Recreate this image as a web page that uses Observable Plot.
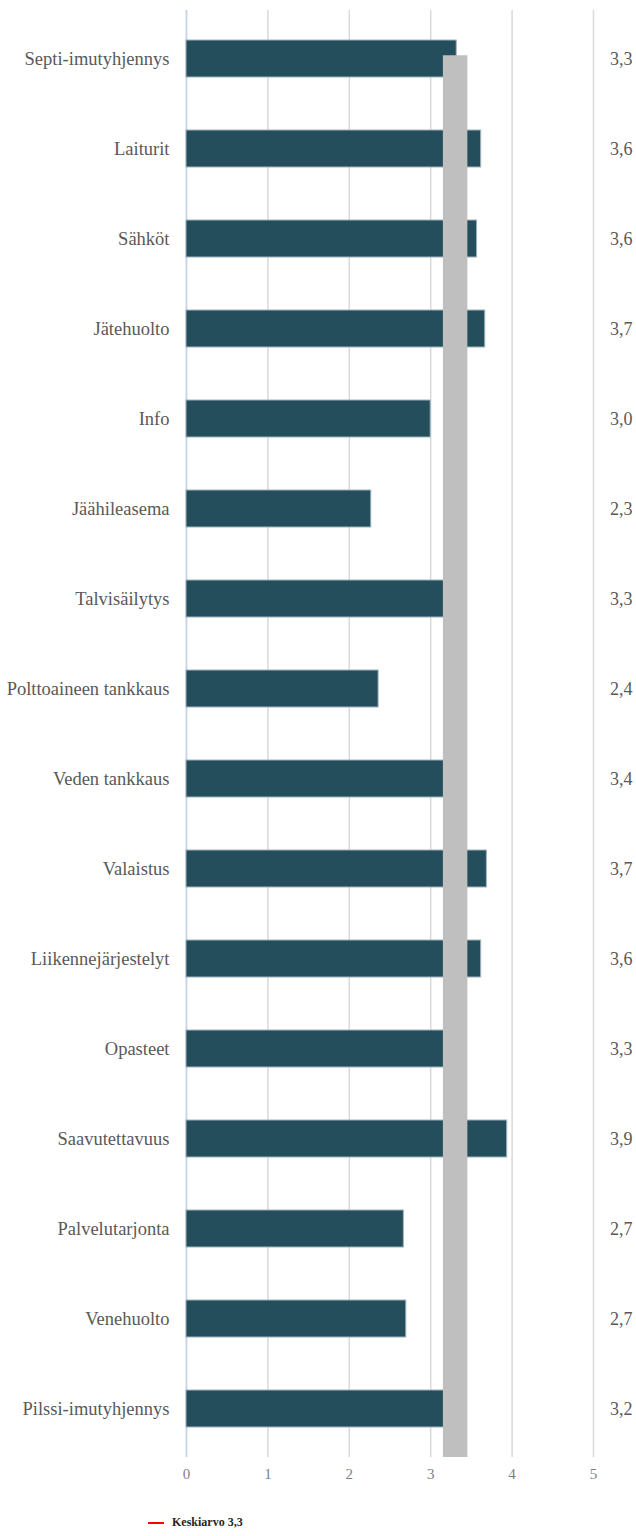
<!DOCTYPE html>
<html>
<head>
<meta charset="utf-8">
<script src="https://cdn.jsdelivr.net/npm/d3@7"></script>
<script src="https://cdn.jsdelivr.net/npm/@observablehq/plot@0.6"></script>
<style>
  html, body { margin: 0; padding: 0; background: #ffffff; }
  #chart svg { display: block; font-family: "Liberation Serif", "Times New Roman", serif !important; }
  #chart svg text { font-family: "Liberation Serif", "Times New Roman", serif !important; }
  .legend { position: relative; height: 40px; font-family: "Liberation Serif", "Times New Roman", serif; font-size: 12px; font-weight: bold; color: #262626; }
  .legend .sw { position: absolute; left: 148px; top: 27px; width: 16px; height: 2px; background: #ff0000; }
  .legend .lb { position: absolute; left: 172px; top: 20px; }
</style>
</head>
<body>
<div id="chart"></div>
<div class="legend"><span class="sw"></span><span class="lb" id="legendLabel"></span></div>
<script>
const categories = [
  "Septi-imutyhjennys", "Laiturit", "Sähköt", "Jätehuolto", "Info", "Jäähileasema",
  "Talvisäilytys", "Polttoaineen tankkaus", "Veden tankkaus", "Valaistus",
  "Liikennejärjestelyt", "Opasteet", "Saavutettavuus", "Palvelutarjonta",
  "Venehuolto", "Pilssi-imutyhjennys"
];
const values = [3.32, 3.62, 3.57, 3.67, 3.0, 2.27, 3.3, 2.36, 3.4, 3.69, 3.62, 3.3, 3.94, 2.67, 2.7, 3.2];
const average = 3.3;
const averageLabel = "Keskiarvo";
const xTicks = [0, 1, 2, 3, 4, 5];

const fmt = v => v.toFixed(1).replace(".", ",");
const data = categories.map((c, i) => ({category: c, value: values[i]}));

const width = 636, height = 1495;
const marginTop = 10, marginBottom = 38, marginLeft = 186, marginRight = 43;
const step = (height - marginTop - marginBottom) / categories.length;
const font = "Liberation Serif";

const chart = Plot.plot({
  width, height, marginTop, marginBottom, marginLeft, marginRight,
  style: {background: "#ffffff"},
  x: {domain: [0, 5], ticks: xTicks, tickFormat: d => String(d)},
  y: {domain: categories, paddingInner: 0.584, paddingOuter: 0.292},
  marks: [
    Plot.gridX(xTicks, {stroke: "#d9d9d9", strokeOpacity: 1, strokeWidth: 1.5}),
    Plot.ruleX([0], {stroke: "#c5d3e6", strokeWidth: 1.5}),
    Plot.barX(data, {x: "value", y: "category", fill: "#244e5b", stroke: "#9fb2c0", strokeWidth: 1}),
    Plot.ruleX([average], {x: d => d, stroke: "#bfbfbf", strokeWidth: 24.5, insetTop: step / 2}),
    Plot.axisX({ticks: xTicks, tickFormat: d => String(d), tickSize: 0, tickPadding: 11, fontSize: 15, fontFamily: font, fill: "#7f7f7f", label: null}),
    Plot.axisY({tickSize: 0, tickPadding: 17, fontSize: 18.5, fontFamily: font, fill: "#595959", label: null}),
    Plot.text(data, {y: "category", text: d => fmt(d.value), frameAnchor: "right", textAnchor: "end", dx: 39, fontSize: 18, fontFamily: font, fill: "#595959"})
  ]
});
document.getElementById("chart").appendChild(chart);
document.getElementById("legendLabel").textContent = averageLabel + " " + fmt(average);
</script>
</body>
</html>
